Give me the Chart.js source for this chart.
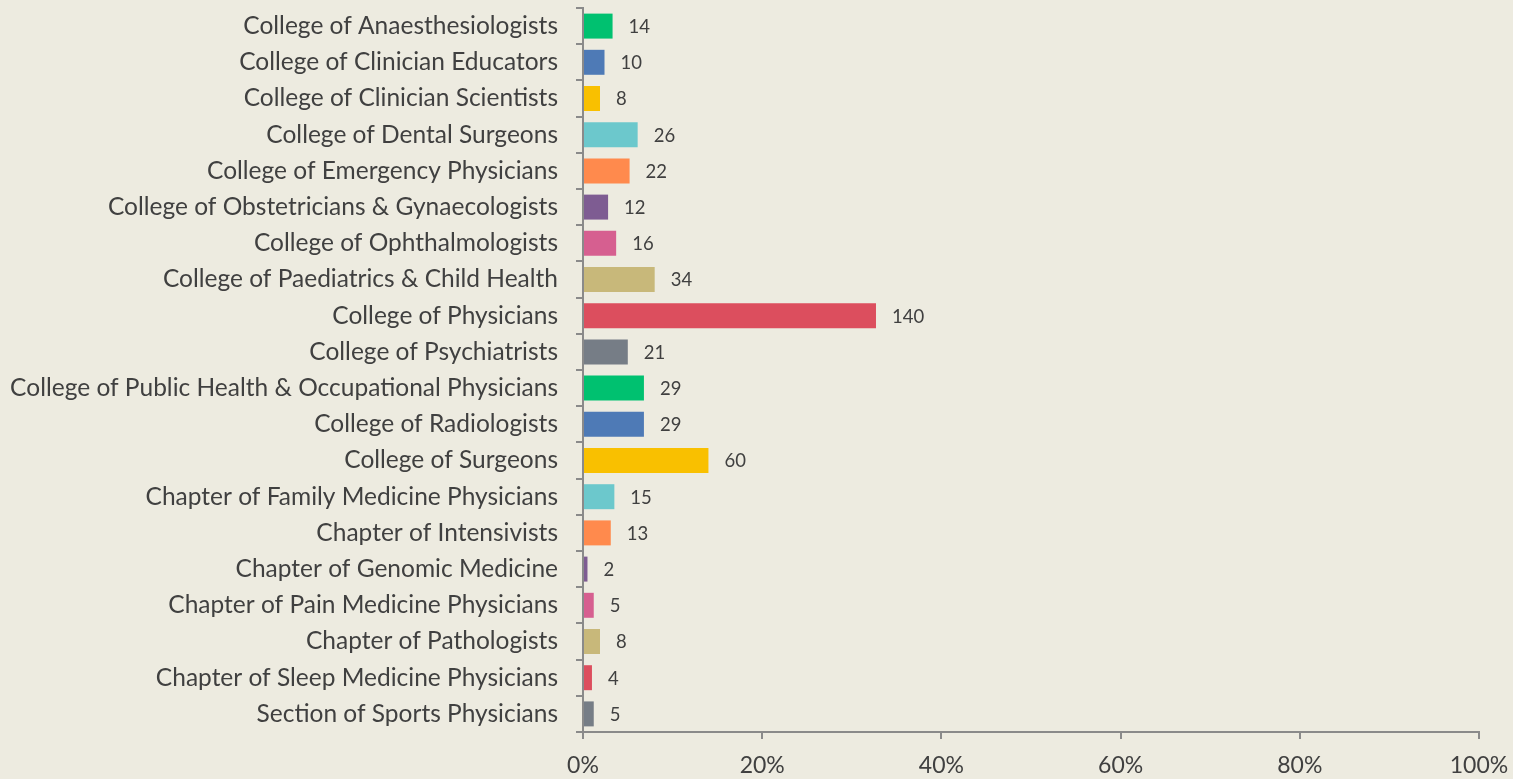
<!DOCTYPE html>
<html>
<head>
<meta charset="utf-8">
<script src="https://cdn.jsdelivr.net/npm/chart.js@4.4.1/dist/chart.umd.min.js"></script>
<style>
  html, body { margin: 0; padding: 0; background: #edebe0; }
  #wrap { width: 1513px; height: 779px; }
</style>
</head>
<body>
<div id="wrap"><canvas id="myChart"></canvas></div>
<script>
const categories = [
  'College of Anaesthesiologists',
  'College of Clinician Educators',
  'College of Clinician Scientists',
  'College of Dental Surgeons',
  'College of Emergency Physicians',
  'College of Obstetricians & Gynaecologists',
  'College of Ophthalmologists',
  'College of Paediatrics & Child Health',
  'College of Physicians',
  'College of Psychiatrists',
  'College of Public Health & Occupational Physicians',
  'College of Radiologists',
  'College of Surgeons',
  'Chapter of Family Medicine Physicians',
  'Chapter of Intensivists',
  'Chapter of Genomic Medicine',
  'Chapter of Pain Medicine Physicians',
  'Chapter of Pathologists',
  'Chapter of Sleep Medicine Physicians',
  'Section of Sports Physicians',
];

// number shown next to each bar
const counts = [14, 10, 8, 26, 22, 12, 16, 34, 140, 21, 29, 29, 60, 15, 13, 2, 5, 8, 4, 5];

// bar length (%)
const percents = [3.3, 2.4, 1.9, 6.1, 5.2, 2.8, 3.7, 8.0, 32.7, 5.0, 6.8, 6.8, 14.0, 3.5, 3.1, 0.5, 1.2, 1.9, 1.0, 1.2];

const xTicks = [0, 20, 40, 60, 80, 100];

const palette = ['#00c170', '#4e7ab6', '#f9c000', '#6cc8cc', '#ff8a4d', '#7e5c92', '#d65f90', '#c8b87a', '#dc4e5e', '#767d86'];

const axisColor = '#8a8a8a';
const textColor = '#404040';
const fontFamily = 'Lato, "Open Sans", sans-serif';

/* 막대 끝에 숫자 표시 */
const valueLabels = {
  id: 'valueLabels',
  afterDatasetsDraw(chart) {
    const { ctx } = chart;
    const meta = chart.getDatasetMeta(0);
    ctx.save();
    ctx.font = '18.5px ' + fontFamily;
    ctx.fillStyle = textColor;
    ctx.textAlign = 'left';
    ctx.textBaseline = 'middle';
    meta.data.forEach((bar, i) => {
      ctx.fillText(String(counts[i]), bar.x + 16, bar.y + 1);
    });
    ctx.restore();
  },
};

const ctx = document.getElementById('myChart');

new Chart(ctx, {
  type: 'bar',
  data: {
    labels: categories,
    datasets: [
      {
        data: percents,
        backgroundColor: categories.map((c, i) => palette[i % palette.length]),
        borderWidth: 0,
        barPercentage: 0.69,
        categoryPercentage: 1,
      },
    ],
  },
  options: {
    indexAxis: 'y',
    responsive: true,
    maintainAspectRatio: false,
    animation: false,
    layout: { padding: { top: 8, right: 34, left: 0, bottom: 0 } },
    plugins: {
      legend: { display: false },
      tooltip: { enabled: false },
    },
    scales: {
      x: {
        min: 0,
        max: 100,
        afterBuildTicks(scale) {
          scale.ticks = xTicks.map((v) => ({ value: v }));
        },
        afterFit(scale) {
          scale.height = 47;
          scale.paddingLeft = 0;
          scale.paddingRight = 0;
        },
        border: { color: axisColor, width: 2 },
        grid: {
          drawOnChartArea: false,
          drawTicks: true,
          tickLength: 7,
          color: axisColor,
          lineWidth: 2,
        },
        ticks: {
          padding: 13,
          color: textColor,
          font: { family: fontFamily, size: 23 },
          callback: (v) => v + '%',
          maxRotation: 0,
        },
      },
      y: {
        afterFit(scale) {
          scale.width = 583;
          scale.paddingTop = 0;
          scale.paddingBottom = 0;
        },
        border: { color: axisColor, width: 2 },
        grid: {
          offset: true,
          drawOnChartArea: false,
          drawTicks: true,
          tickLength: 7,
          color: axisColor,
          lineWidth: 2,
        },
        ticks: {
          padding: 18,
          color: textColor,
          font: { family: fontFamily, size: 24.5 },
          autoSkip: false,
        },
      },
    },
  },
  plugins: [valueLabels],
});
</script>
</body>
</html>
